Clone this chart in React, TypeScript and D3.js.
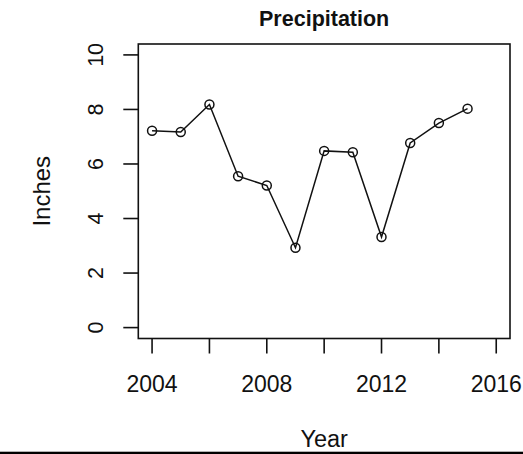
import React from "react";
import * as d3 from "d3";

const years: number[] = [2004, 2005, 2006, 2007, 2008, 2009, 2010, 2011, 2012, 2013, 2014, 2015];
const inches: number[] = [7.22, 7.17, 8.18, 5.55, 5.21, 2.93, 6.48, 6.43, 3.32, 6.77, 7.5, 8.03];
const xTicks: number[] = [2004, 2006, 2008, 2010, 2012, 2014, 2016];
const xTickLabels: number[] = [2004, 2008, 2012, 2016];
const yTicks: number[] = [0, 2, 4, 6, 8, 10];

const W = 523;
const H = 454;
const left = 138.3;
const right = 510;
const top = 44;
const bottom = 338.5;
const FONT = "'Liberation Sans', Arial, sans-serif";

export default function App() {
  const x = d3.scaleLinear().domain([2003.52, 2016.48]).range([left, right]);
  const y = d3.scaleLinear().domain([-0.4, 10.4]).range([bottom, top]);
  const pts = years.map((yr, i) => [yr, inches[i]] as [number, number]);
  const line = d3
    .line<[number, number]>()
    .x((d) => x(d[0]))
    .y((d) => y(d[1]));
  const cx = (left + right) / 2;
  const cy = (top + bottom) / 2;
  const ink = "#111";

  return (
    <svg
      width={W}
      height={H}
      style={{ position: "absolute", left: 0, top: 0, background: "#fff" }}
      fontFamily={FONT}
    >
      <rect x={0} y={0} width={W} height={H} fill="#fff" />
      <text x={cx} y={25.5} textAnchor="middle" fontSize={21.5} fontWeight="bold" fill={ink}>
        Precipitation
      </text>
      <rect
        x={left}
        y={top}
        width={right - left}
        height={bottom - top}
        fill="none"
        stroke={ink}
        strokeWidth={1.6}
      />
      {xTicks.map((t) => (
        <line key={"xt" + t} x1={x(t)} x2={x(t)} y1={bottom} y2={bottom + 15} stroke={ink} strokeWidth={1.6} />
      ))}
      {xTickLabels.map((t) => (
        <text key={"xl" + t} x={x(t)} y={391.7} textAnchor="middle" fontSize={23} fill={ink}>
          {t}
        </text>
      ))}
      {yTicks.map((t) => (
        <line key={"yt" + t} x1={left - 15} x2={left} y1={y(t)} y2={y(t)} stroke={ink} strokeWidth={1.6} />
      ))}
      {yTicks.map((t) => (
        <text
          key={"yl" + t}
          transform={`translate(102.5,${y(t)}) rotate(-90)`}
          textAnchor="middle"
          fontSize={21.5}
          fill={ink}
        >
          {t}
        </text>
      ))}
      <text transform={`translate(50,${cy}) rotate(-90)`} textAnchor="middle" fontSize={24} fill={ink}>
        Inches
      </text>
      <text x={cx} y={447} textAnchor="middle" fontSize={23.5} fill={ink}>
        Year
      </text>
      <path d={line(pts) || ""} fill="none" stroke={ink} strokeWidth={1.5} />
      {pts.map((p, i) => (
        <circle key={"c" + i} cx={x(p[0])} cy={y(p[1])} r={4.5} fill="none" stroke={ink} strokeWidth={1.5} />
      ))}
      <rect x={0} y={451.7} width={W} height={2.3} fill="#000" />
    </svg>
  );
}
